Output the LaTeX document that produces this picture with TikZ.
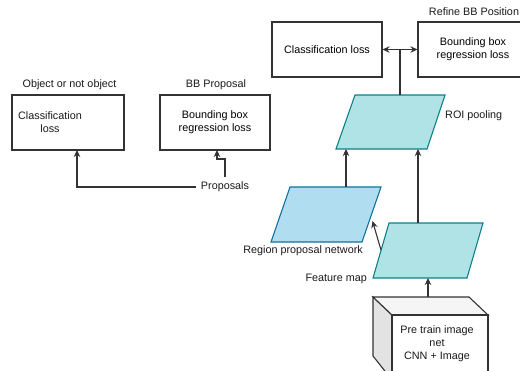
\documentclass[tikz,border=0pt]{standalone}
\usepackage{fontspec}
\setmainfont{Liberation Sans}
\usetikzlibrary{arrows.meta}
\definecolor{tealfill}{HTML}{B0E3E6}
\definecolor{tealline}{HTML}{0E8088}
\definecolor{bluefill}{HTML}{B1DDF0}
\definecolor{blueline}{HTML}{10739E}
\definecolor{linec}{HTML}{333333}
\begin{document}
\begin{tikzpicture}[x=1pt,y=-1pt,
  font=\fontsize{10.8}{13}\selectfont,
  lossbox/.style={draw=linec,line width=1.1pt,minimum width=110pt,minimum height=55pt,inner sep=0pt,align=center},
  txt/.style={inner sep=1pt,align=center,text=black!90},
  conn/.style={draw=linec,line width=1.1pt,-{Stealth[length=7pt,width=6.5pt]}},
  tealpar/.style={fill=tealfill,draw=tealline,line width=1.1pt},
  bluepar/.style={fill=bluefill,draw=blueline,line width=1.1pt},
  anchorpt/.style={inner sep=0pt,minimum size=0pt}
]
\useasboundingbox (0,0) rectangle (520,370);

% left stage boxes
\node[lossbox,minimum width=112pt] (objcls) at (68,122.5) {};
\node[txt] (objclstxt) at (50,122) {Classification\\loss};
\node[txt] (objlbl) at (69.5,85) {Object or not object};
\node[lossbox] (bbprop) at (215,122.5) {Bounding box\\regression loss};
\node[txt] (bblbl) at (216,85) {BB Proposal};
\node[txt,inner sep=5pt] (prop) at (225,187) {Proposals};

% top right boxes
\node[lossbox] (cls2) at (327,49.5) {Classification loss};
\node[lossbox] (bb2) at (473,49.5) {Bounding box\\regression loss};
\node[txt] (reflbl) at (474,12) {Refine BB Position};

% ROI pooling
\draw[tealpar] (355,95) -- (445,95) -- (427,149) -- (336,149) -- cycle;
\node[anchorpt] (roi) at (390.5,122) {};
\node[txt,anchor=west] (roilbl) at (444,116) {ROI pooling};

% RPN
\draw[bluepar] (290,187) -- (381,187) -- (362,242) -- (271,242) -- cycle;
\node[anchorpt] (rpn) at (326,214.5) {};
\node[txt,anchor=east] (rpnlbl) at (364,251) {Region proposal network};

% Feature map
\draw[tealpar] (389,223) -- (483,223) -- (467,278) -- (373,278) -- cycle;
\node[anchorpt] (fmap) at (428,250.5) {};
\node[txt,anchor=east] (fmaplbl) at (368,279) {Feature map};

% cube
\draw[linec,line width=1.1pt,fill=gray!22] (373,297) -- (392,315) -- (392,380) -- (373,356) -- cycle;
\draw[linec,line width=1.1pt,fill=gray!8] (373,297) -- (469,297) -- (488,315) -- (392,315) -- cycle;
\draw[linec,line width=1.1pt,fill=white] (392,315) rectangle (488,380);
\node[txt] (cube) at (437,344) {Pre train image\\net\\CNN + Image};

% connection points
\coordinate (roiTop) at (400,95);
\coordinate (roiB1) at (346,149);
\coordinate (roiB2) at (418,149);
\coordinate (rpnTop) at (346,187);
\coordinate (rpnRight) at (372.5,221);
\coordinate (fmTop) at (418,223);
\coordinate (fmLeft) at (381,250);
\coordinate (fmBot) at (428,278);
\coordinate (cubeTop) at (428,297);

% connectors
\draw[conn] (cubeTop) -- (fmBot);
\draw[conn] (fmTop) -- (roiB2);
\draw[conn] (rpnTop) -- (roiB1);
\draw[conn] (fmLeft) -- (rpnRight);
\draw[conn] (roiTop) |- (cls2.east);
\draw[conn] (roiTop) |- (bb2.west);
\draw[conn] (prop.west) -- (77,187) -- (77,150);
\draw[conn] (prop.north) -- (225,159) -- (217,159) -- (217,150);
\end{tikzpicture}
\end{document}
